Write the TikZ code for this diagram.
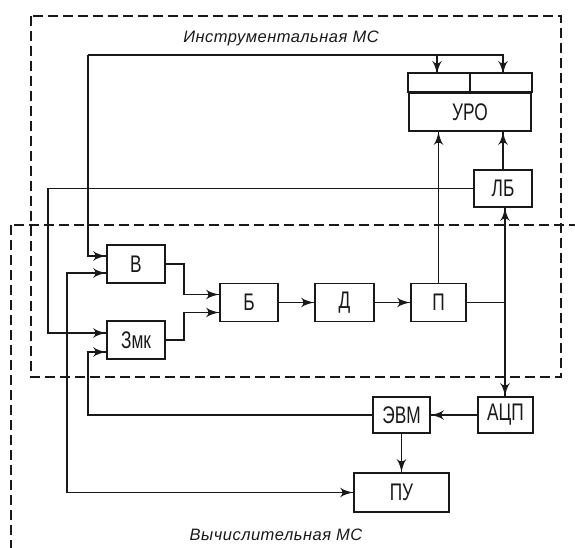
\documentclass[tikz,border=0pt]{standalone}
\usepackage{fontspec}
\setmainfont{Liberation Sans}
\newfontfamily\blkfont{Liberation Sans}[FakeStretch=0.72]
\newfontfamily\zonefont{Liberation Sans}[LetterSpace=3]
\usetikzlibrary{arrows}
\usetikzlibrary{decorations.markings}
\tikzset{arr/.style = {decoration={markings,
                                   mark=at position 1 with {\arrow[scale=1.6]{latex'}}},
                       postaction={decorate}}}
\tikzset{arrboth/.style = {decoration={markings,
                                       mark=at position 0 with {\arrowreversed[scale=1.6]{latex'}},
                                       mark=at position 1 with {\arrow[scale=1.6]{latex'}}},
                           postaction={decorate}}}
\tikzset{blk/.style = {draw, rectangle, inner sep = 0, minimum width = #1, minimum height = 38pt,
                       font = \blkfont\fontsize{24}{24}\selectfont}}
\tikzset{zone/.style = {dash pattern = on 10pt off 5pt, line width = 1.8pt}}
\tikzset{zonelabel/.style = {font = \zonefont\itshape\fontsize{16.5}{16.5}\selectfont}}

\begin{document}
\begin{tikzpicture}[x = 1pt, y = -1pt, line width = 1.8pt, color = black!90]
    \useasboundingbox (0, 0) rectangle (575, 548);
    \clip (0, 0) rectangle (575, 548);

    % zones
    \draw [zone] (31, 16) rectangle (561, 377);
    \draw [zone] (11, 225) rectangle (600, 580);
    \node (instr) at (281, 38) [zonelabel] {Инструментальная МС};
    \node (comp) at (276, 535) [zonelabel] {Вычислительная МС};

    % blocks
    \node (v) at (136, 264) [blk = 58pt] {В};
    \node (zmk) at (136, 340) [blk = 58pt] {Змк};
    \node (b) at (249, 302.5) [blk = 58pt] {Б};
    \node (d) at (344.5, 302.5) [blk = 59pt] {Д};
    \node (p) at (438.5, 302.5) [blk = 55pt] {П};
    \node (uro) at (470, 112) [blk = 122pt] {УРО};
    \node (lb) at (503, 188.5) [blk = 58pt, minimum height = 37pt] {ЛБ};
    \node (evm) at (401.5, 415) [blk = 57pt, minimum height = 36pt] {ЭВМ};
    \node (adc) at (505.5, 415) [blk = 55pt, minimum height = 36pt] {АЦП};
    \node (pu) at (401.5, 492.5) [blk = 95pt, minimum height = 39pt] {ПУ};

    % strip over uro
    \draw (uro.north west) rectangle ([yshift = 19pt]uro.north east);
    \draw (uro.north) -- ([yshift = 19pt]uro.north);
    \coordinate (cellc) at (437, 74);
    \coordinate (cellt) at (503, 74);
    \coordinate (bus) at (88, 55);
    \coordinate (jn) at (505, 302.5);

    % connections
    \draw [arr] (bus) -- (bus -| cellt) -- (cellt);
    \draw [arr] (bus -| cellc) -- (cellc);
    \draw [arr] (bus) |- ([yshift = 8pt]v.west);
    \draw [arr] (lb.west) -| (48, 333) -- ([yshift = 7pt]zmk.west);
    \draw [arrboth] ([yshift = -9pt]v.west) -- ++(-39, 0) |- (pu.west);
    \draw [arr] (evm.west) -| ([xshift = -18pt, yshift = -12pt]zmk.west) -- ([yshift = -12pt]zmk.west);
    \draw [arr] (v.east) -- ++(18, 0) |- ([yshift = 8pt]b.west);
    \draw [arr] (zmk.east) -- ++(18, 0) |- ([yshift = -10pt]b.west);
    \draw [arr] (b.east) -- (d.west);
    \draw [arr] (d.east) -- (p.west);
    \draw [arr] (p.north) -- (p.north |- uro.south);
    \draw (p.east) -- (jn);
    \draw [arr] (jn) -- (jn |- lb.south);
    \draw [arr] (jn) -- (jn |- adc.north);
    \draw [arr] (lb.north) -- (lb.north |- uro.south);
    \draw [arr] (adc.west) -- (evm.east);
    \draw [arr] (evm.south) -- (pu.north);
\end{tikzpicture}
\end{document}
